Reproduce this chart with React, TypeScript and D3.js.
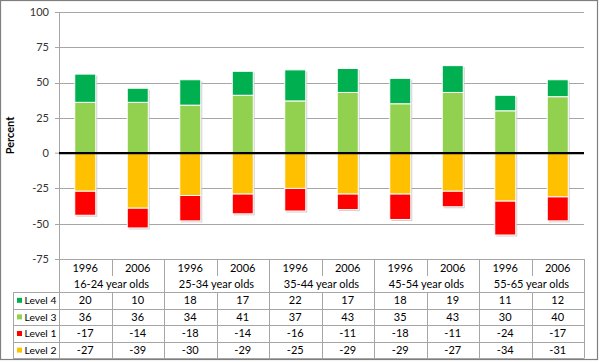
import React from 'react';
import * as d3 from 'd3';

const years = ['1996', '2006', '1996', '2006', '1996', '2006', '1996', '2006', '1996', '2006'];
const groups = ['16-24 year olds', '25-34 year olds', '35-44 year olds', '45-54 year olds', '55-65 year olds'];
const level4 = [20, 10, 18, 17, 22, 17, 18, 19, 11, 12];
const level3 = [36, 36, 34, 41, 37, 43, 35, 43, 30, 40];
const level1 = [-17, -14, -18, -14, -16, -11, -18, -11, -24, -17];
const level2 = [-27, -39, -30, -29, -25, -29, -29, -27, -34, -31];
const yTicks = [100, 75, 50, 25, 0, -25, -50, -75];

const series = [
  { key: 'l4', name: 'Level 4', color: '#00b050', values: level4 },
  { key: 'l3', name: 'Level 3', color: '#92d050', values: level3 },
  { key: 'l1', name: 'Level 1', color: '#ff0000', values: level1 },
  { key: 'l2', name: 'Level 2', color: '#ffc000', values: level2 },
];

const W = 600;
const H = 362;
const left = 59;
const right = 584;
const legendLeft = 13;
const font = 'Lato, "Open Sans", sans-serif';
const grid = '#a6a6a6';

export default function App() {
  const y = d3.scaleLinear().domain([-75, 100]).range([259, 12]);
  const x = d3.scaleBand<number>().domain(d3.range(years.length)).range([left, right]).paddingInner(0).paddingOuter(0);
  const bw = x.bandwidth() * 0.4;

  const rows = years.map((yr, i) => ({ i, l3: level3[i], l4: level4[i], l2: level2[i], l1: level1[i] }));
  const stack = d3.stack<any>().keys(['l3', 'l4', 'l2', 'l1']).offset(d3.stackOffsetDiverging);
  const stacked = stack(rows);
  const colorOf: Record<string, string> = {};
  series.forEach(s => (colorOf[s.key] = s.color));

  const tableTop = y(-75);
  const yearRowH = 17;
  const groupRowH = 16;
  const dataTop = tableTop + yearRowH + groupRowH;
  const rowH = 16.6;
  const tableBottom = dataTop + rowH * series.length;

  return (
    <svg width={W} height={H} style={{ position: 'absolute', left: 0, top: 0, display: 'block', fontFamily: font }}>
      <rect x={0} y={0} width={W} height={H} fill="#fff" />
      <rect x={0.5} y={0.5} width={597} height={359} fill="none" stroke="#7f7f7f" strokeWidth={1.2} />

      {/* gridlines + ticks */}
      {yTicks.filter(t => t !== 0).map(t => (
        <line key={t} x1={left - 4} x2={right} y1={Math.round(y(t)) + 0.5} y2={Math.round(y(t)) + 0.5} stroke={grid} strokeWidth={1} />
      ))}
      {yTicks.map(t => (
        <text key={'t' + t} x={49} y={y(t)} dy="0.35em" textAnchor="end" fontSize={11} fill="#333">{t}</text>
      ))}
      <line x1={left - 4} x2={left} y1={y(0)} y2={y(0)} stroke={grid} />
      <line x1={left + 0.5} x2={left + 0.5} y1={y(100)} y2={tableBottom} stroke={grid} />

      <text transform={`translate(14,${(y(100) + y(-75)) / 2}) rotate(-90)`} textAnchor="middle" fontSize={11} fontWeight="bold" fill="#000">Percent</text>

      {/* bar shadows */}
      {rows.map(r => {
        const top = y(r.l3 + r.l4);
        const bot = y(r.l2 + r.l1);
        const cx = (x(r.i) as number) + x.bandwidth() / 2;
        return <rect key={'s' + r.i} x={cx - bw / 2 + 1.5} y={top + 1.5} width={bw} height={bot - top} fill="#bdbdbd" opacity={0.7} />;
      })}

      {/* bars */}
      {stacked.map(layer => (
        <g key={layer.key} fill={colorOf[layer.key]}>
          {layer.map((d, i) => {
            const cx = (x(i) as number) + x.bandwidth() / 2;
            const y0 = y(Math.max(d[0], d[1]));
            const y1 = y(Math.min(d[0], d[1]));
            return <rect key={i} x={cx - bw / 2} y={y0} width={bw} height={y1 - y0} stroke="#fff" strokeWidth={1} />;
          })}
        </g>
      ))}

      <line x1={left} x2={right} y1={y(0)} y2={y(0)} stroke="#000" strokeWidth={2.2} />

      {/* table */}
      {years.map((yr, i) => (
        <text key={'y' + i} x={(x(i) as number) + x.bandwidth() / 2} y={tableTop + yearRowH / 2 + 1} dy="0.35em" textAnchor="middle" fontSize={11} fill="#000">{yr}</text>
      ))}
      {groups.map((g, gi) => (
        <text key={'g' + gi} x={(x(gi * 2) as number) + x.bandwidth()} y={tableTop + yearRowH + groupRowH / 2} dy="0.35em" textAnchor="middle" fontSize={11} fill="#000">{g}</text>
      ))}
      {years.map((yr, i) => {
        const xx = Math.round(x(i) as number) + 0.5;
        if (i === 0) return null;
        const isGroup = i % 2 === 0;
        return (
          <g key={'v' + i}>
            {isGroup ? (
              <line x1={xx} x2={xx} y1={tableTop} y2={tableBottom} stroke={grid} />
            ) : (
              <>
                <line x1={xx} x2={xx} y1={tableTop} y2={tableTop + yearRowH} stroke={grid} />
                <line x1={xx} x2={xx} y1={dataTop} y2={tableBottom} stroke={grid} />
              </>
            )}
          </g>
        );
      })}
      <line x1={right + 0.5} x2={right + 0.5} y1={tableTop} y2={tableBottom} stroke={grid} />
      <line x1={legendLeft + 0.5} x2={legendLeft + 0.5} y1={dataTop} y2={tableBottom} stroke={grid} />
      {d3.range(series.length + 1).map(k => (
        <line key={'h' + k} x1={legendLeft} x2={right} y1={Math.round(dataTop + k * rowH) + 0.5} y2={Math.round(dataTop + k * rowH) + 0.5} stroke={grid} />
      ))}
      {series.map((s, k) => {
        const cy = dataTop + k * rowH + rowH / 2;
        return (
          <g key={s.key}>
            <rect x={17} y={cy - 2.5} width={5} height={5} fill={s.color} />
            <text x={24.5} y={cy} dy="0.35em" fontSize={10.3} fill="#000">{s.name}</text>
            {s.values.map((v, i) => (
              <text key={i} x={(x(i) as number) + x.bandwidth() / 2} y={cy} dy="0.35em" textAnchor="middle" fontSize={11} fill="#000">{v}</text>
            ))}
          </g>
        );
      })}
    </svg>
  );
}
